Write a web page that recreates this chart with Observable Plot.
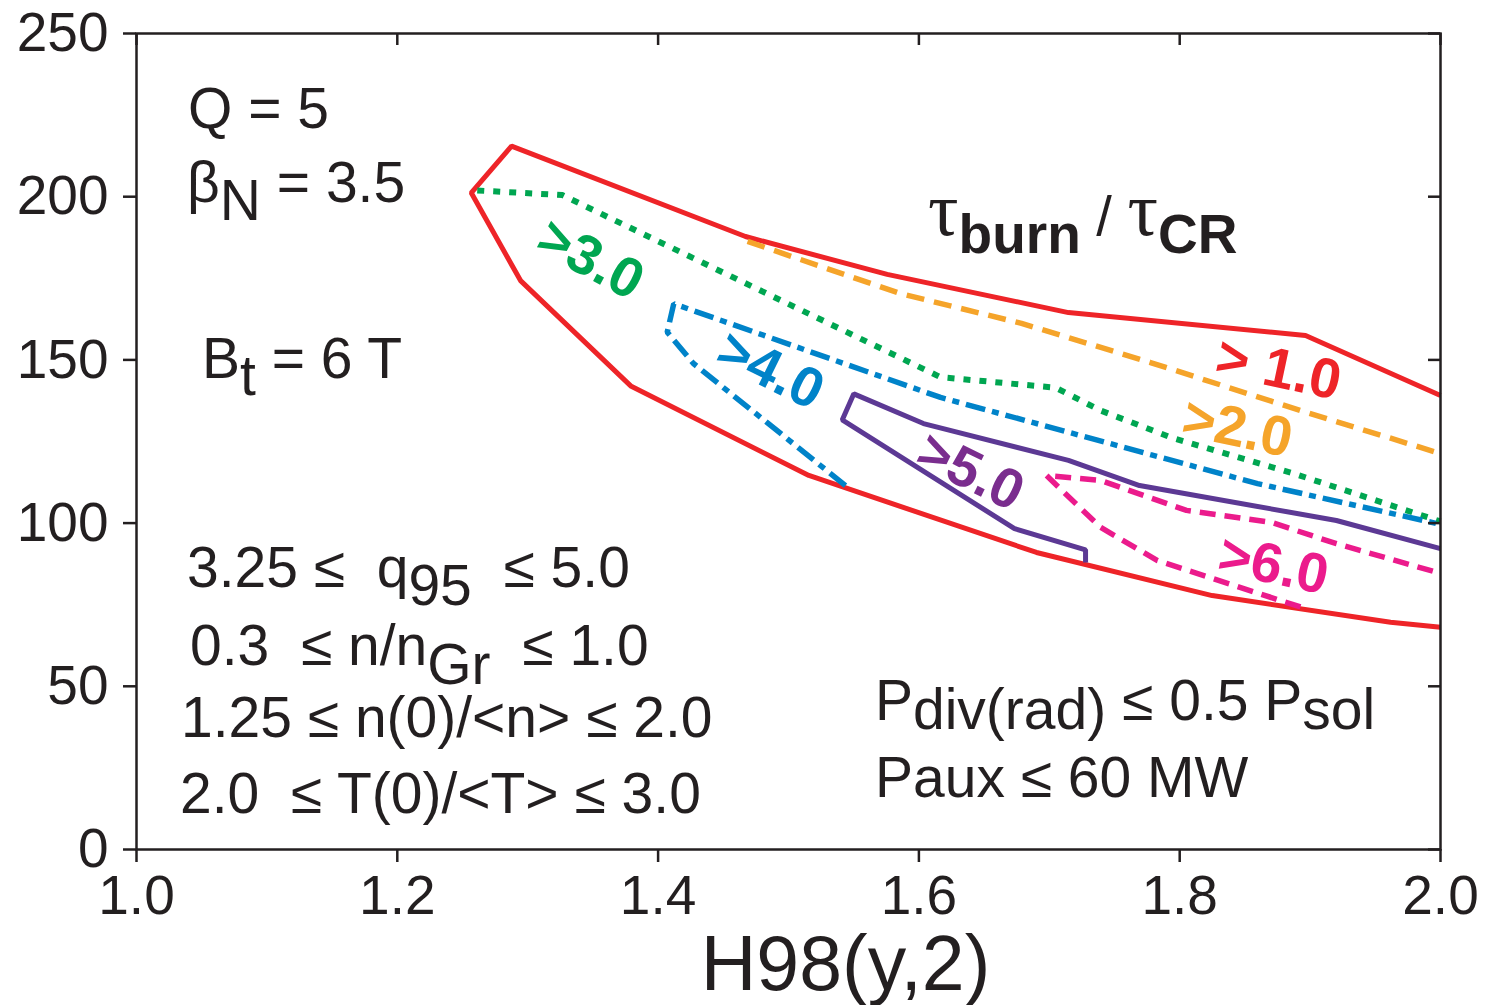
<!DOCTYPE html>
<html>
<head>
<meta charset="utf-8">
<script src="https://cdn.jsdelivr.net/npm/d3@7"></script>
<script src="https://cdn.jsdelivr.net/npm/@observablehq/plot@0.6"></script>
<style>
  html, body { margin: 0; padding: 0; background: #fff; overflow: hidden; }
  #chart svg { display: block; }
</style>
</head>
<body>
<div id="chart"></div>
<script>
// ---------- data ----------
const xTicks = [1.0, 1.2, 1.4, 1.6, 1.8, 2.0];
const yTicks = [0, 50, 100, 150, 200, 250];

// tau_burn / tau_CR > 1.0  (outer boundary: lower edge right->left, then upper edge left->right)
const redX = [2.0, 1.9617, 1.8249, 1.6902, 1.5156, 1.3794, 1.2945, 1.2567, 1.2876, 1.467, 1.5757, 1.7147, 1.8965, 2.0];
const redY = [68.1, 69.6, 77.8, 91.0, 114.6, 141.9, 174.3, 201.2, 215.5, 187.8, 176.2, 164.5, 157.5, 139.1];

// > 2.0
const orangeX = [1.4686, 1.5859, 1.6787, 1.7776, 1.8926, 2.0];
const orangeY = [186.3, 170.3, 161.2, 149.2, 134.5, 121.3];

// > 3.0
const greenX = [1.2613, 1.3265, 1.6166, 1.7048, 1.7393, 1.7937, 1.8873, 2.0];
const greenY = [201.9, 200.5, 144.7, 141.5, 134.5, 126.2, 115.2, 100.5];

// > 4.0
const blueX = [1.5437, 1.4271, 1.407, 1.412, 1.6166, 1.7776, 1.8597, 1.9969];
const blueY = [111.5, 148.9, 158.5, 167.2, 138.5, 121.0, 112.1, 99.9];

// > 5.0
const purpleX = [1.7278, 1.7278, 1.6733, 1.5412, 1.5501, 1.6035, 1.7147, 1.7692, 1.9202, 2.0];
const purpleY = [87.9, 91.8, 98.3, 131.6, 139.6, 130.5, 119.2, 111.5, 100.8, 92.2];

// > 6.0
const magentaX = [1.8926, 1.783, 1.7393, 1.6978, 1.7393, 1.8052, 1.8704, 1.9202, 2.0];
const magentaY = [74.3, 88.5, 98.7, 114.6, 113.1, 103.9, 100.2, 93.7, 84.6];

const curveNames = ["> 1.0", ">2.0", ">3.0", ">4.0", ">5.0", ">6.0"];

// ---------- helpers ----------
const rows = (xs, ys) => xs.map((x, i) => ({x, y: ys[i]}));
const ink = "#231F20";
const sans = "'Liberation Sans', Arial, Helvetica, sans-serif";
const serif = "'Liberation Serif', 'Times New Roman', serif";

const C = {
  red: "#EE2428", orange: "#F5A42A", green: "#00A651", blue: "#0083C9",
  purple: "#5C3994", purpleText: "#7A2D8E", magenta: "#EB1B8C"
};

function curve(xs, ys, color, dash, w = 5) {
  return Plot.line(rows(xs, ys), {
    x: "x", y: "y", stroke: color, strokeWidth: w,
    strokeDasharray: dash, strokeLinecap: "butt", strokeLinejoin: "miter", curve: "linear"
  });
}
function curveLabel(text, x, y, angle, color) {
  return Plot.text([{text, x, y}], {
    x: "x", y: "y", text: "text", rotate: angle, fill: color,
    fontSize: 56, fontWeight: "bold", fontFamily: sans,
    textAnchor: "middle", lineAnchor: "middle"
  });
}

const plotW = 1486, plotH = 1005;
const mL = 136, mR = 46, mT = 33, mB = 156;
const innerW = plotW - mL - mR, innerH = plotH - mT - mB;

const chart = Plot.plot({
  width: plotW, height: plotH,
  marginLeft: mL, marginRight: mR, marginTop: mT, marginBottom: mB,
  style: {fontFamily: sans, color: ink, background: "#fff", overflow: "visible"},
  x: {domain: [1.0, 2.0]},
  y: {domain: [0, 250]},
  marks: [
    curve(redX, redY, C.red, null, 5),
    curve(orangeX, orangeY, C.orange, "18,10", 5.5),
    curve(greenX, greenY, C.green, "7,9", 6),
    curve(blueX, blueY, C.blue, "20,7,7,7", 5.5),
    curve(purpleX, purpleY, C.purple, null, 5),
    curve(magentaX, magentaY, C.magenta, "16,9", 5.5),
    curveLabel(curveNames[0], 1.8758, 147.1, 12, C.red),
    curveLabel(curveNames[1], 1.8443, 129.0, 12, C.orange),
    curveLabel(curveNames[2], 1.3482, 180.8, 28, C.green),
    curveLabel(curveNames[3], 1.4862, 146.8, 26, C.blue),
    curveLabel(curveNames[4], 1.6396, 115.8, 26, C.purpleText),
    curveLabel(curveNames[5], 1.8719, 87.0, 12, C.magenta),
    Plot.frame({stroke: ink, strokeWidth: 2.5}),
    Plot.axisX({ticks: xTicks, tickFormat: d3.format(".1f"), tickSize: 13, tickPadding: 12,
      fontSize: 55, strokeWidth: 2.5, label: null, anchor: "bottom"}),
    Plot.axisY({ticks: yTicks, tickFormat: d3.format("d"), tickSize: 13, tickPadding: 15,
      fontSize: 55, strokeWidth: 2.5, label: null, anchor: "left"}),
    Plot.tickX(xTicks, {x: d => d, stroke: ink, strokeWidth: 2.5, insetBottom: innerH - 12}),
    Plot.tickY(yTicks, {y: d => d, stroke: ink, strokeWidth: 2.5, insetLeft: innerW - 12}),
    Plot.text(["H98(y,2)"], {frameAnchor: "bottom", text: d => d, fontSize: 77, fill: ink,
      fontFamily: sans, lineAnchor: "top", dx: 57, dy: 86})
  ]
});
document.getElementById("chart").appendChild(chart);

// ---------- rich-text annotations positioned through the plot scales ----------
const sx = chart.scale("x"), sy = chart.scale("y");
const svg = d3.select(chart);

function rich(parts, x, y, size = 57) {
  const t = svg.append("text")
    .attr("x", sx.apply(x)).attr("y", sy.apply(y))
    .attr("text-anchor", "start")
    .attr("font-family", sans).attr("font-size", size).attr("fill", ink)
    .style("white-space", "pre");
  let shift = 0;
  for (const p of parts) {
    const s = p.sub || 0;
    const ts = t.append("tspan").text(p.t).attr("dy", s - shift);
    shift = s;
    if (p.family) ts.attr("font-family", p.family);
    if (p.size) ts.attr("font-size", p.size);
    if (p.weight) ts.attr("font-weight", p.weight);
  }
  return t;
}

rich([{t: "Q = 5"}], 1.0399, 220.9);
rich([{t: "β"}, {t: "N", sub: 18}, {t: " = 3.5"}], 1.0391, 198.2);
rich([{t: "B"}, {t: "t", sub: 17}, {t: " = 6 T"}], 1.0506, 144.3);

rich([{t: "3.25 ≤  q"}, {t: "95", sub: 18}, {t: "  ≤ 5.0"}], 1.0391, 80.3);
rich([{t: "0.3  ≤ n/n"}, {t: "Gr", sub: 19}, {t: "  ≤ 1.0"}], 1.0414, 56.4);
rich([{t: "1.25 ≤ n(0)/<n> ≤ 2.0"}], 1.0345, 34.3);
rich([{t: "2.0  ≤ T(0)/<T> ≤ 3.0"}], 1.0337, 11.0);

rich([{t: "P"}, {t: "div(rad)", sub: 9}, {t: " ≤ 0.5 P"}, {t: "sol", sub: 9}], 1.5667, 39.5);
rich([{t: "Paux ≤ 60 MW"}], 1.5667, 15.9);

rich([
  {t: "τ", family: serif, size: 76},
  {t: "burn", sub: 18, weight: "bold", size: 55},
  {t: " / ", size: 56},
  {t: "τ", family: serif, size: 76},
  {t: "CR", sub: 18, weight: "bold", size: 55}
], 1.6074, 188.1);
</script>
</body>
</html>
